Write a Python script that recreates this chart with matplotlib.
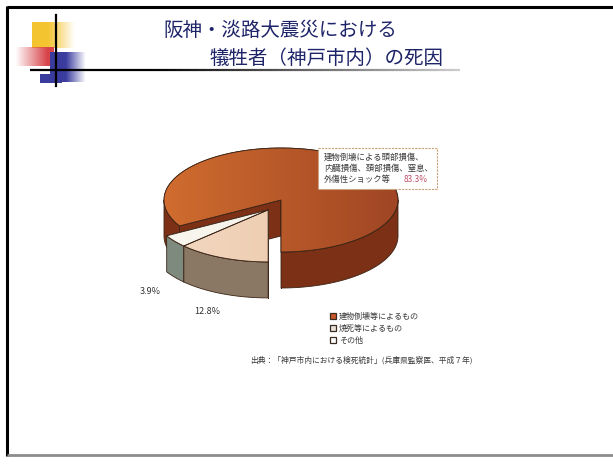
import matplotlib.pyplot as plt
import numpy as np
from matplotlib.patches import Polygon, Rectangle
from matplotlib.collections import LineCollection
from matplotlib.colors import to_rgb

plt.rcParams['font.family'] = ['Noto Sans CJK JP', 'DejaVu Sans']

# Slide content
title_lines = ["阪神・淡路大震災における", "犠牲者（神戸市内）の死因"]
categories = ["建物倒壊等によるもの", "焼死等によるもの", "その他"]
shares = [83.3, 12.8, 3.9]
share_labels = ["83.3%", "12.8%", "3.9%"]
explode = [0.0, 0.22, 0.22]
callout_lines = ["建物倒壊による頭部損傷、", "内臓損傷、頚部損傷、窒息、", "外傷性ショック等"]
source_note = "出典：「神戸市内における検死統計」(兵庫県監察医、平成７年)"

# colours per category: top face (light, dark for gradient), side wall
top_light = ["#d06c2f", "#f3d9c2", "#faf8f0"]
top_dark = ["#a04624", "#e9c4a4", "#eeeae0"]
wall_col = ["#7c3116", "#8a7865", "#7e8a7e"]
legend_fill = ["#c9562a", "#e8e2da", "#ffffff"]

# slices are laid out counter-clockwise from the front: big one first, then その他, then 焼死
draw_order = [0, 2, 1]

fig = plt.figure(figsize=(6.13, 4.65), dpi=100)
ax = fig.add_axes([0, 0, 1, 1])
ax.set_xlim(0, 613)
ax.set_ylim(465, 0)
ax.axis("off")

# slide frame
ax.plot([7, 7], [6, 456], color="black", lw=2.2, solid_capstyle="butt")
ax.plot([7, 613], [7, 7], color="black", lw=2.2, solid_capstyle="butt")
ax.plot([7, 613], [455, 455], color="#8c8c8c", lw=2.0, solid_capstyle="butt")


def fade_block(x0, x1, y0, y1, color, a0, a1, z=1):
    rgba = np.zeros((1, 64, 4))
    rgba[..., :3] = to_rgb(color)
    rgba[..., 3] = np.clip(np.linspace(a0, a1, 64), 0, 1)
    ax.imshow(rgba, extent=(x0, x1, y1, y0), aspect="auto", zorder=z,
              interpolation="bilinear")


# corner ornament
fade_block(32, 75, 22, 48, "#f4c430", 1.6, 0.0)
fade_block(12, 54, 47, 66, "#d8434a", -0.1, 1.2, z=2)
fade_block(50, 86, 52, 82, "#3a3c9e", 1.8, 0.0, z=3)
fade_block(40, 62, 74, 83, "#3a3c9e", 1.0, 1.0, z=3)
ax.plot([56, 56], [15, 86], color="black", lw=1.6, zorder=5)
xs = np.linspace(30, 460, 60)
segs = [[(xs[i], 70), (xs[i + 1], 70)] for i in range(len(xs) - 1)]
greys = [str(min(0.82, max(0.0, (x - 150) / 380))) for x in xs[:-1]]
ax.add_collection(LineCollection(segs, colors=greys, linewidths=1.6, zorder=5))

ax.text(280, 30, title_lines[0], fontsize=14, color="#1e2468",
        ha="center", va="center", zorder=6)
ax.text(326, 58, title_lines[1], fontsize=14, color="#1e2468",
        ha="center", va="center", zorder=6)

# 3D pie, projected as an ellipse with a visible side wall
cx, cy = 281, 200
rx, ry = 117, 52
depth = 36
start = -90.0

spans = np.array(shares) / sum(shares) * 360.0
angles = {}
a = start
for i in draw_order:
    angles[i] = (a, a + spans[i])
    a += spans[i]


def rim(t0, t1, ox, oy, drop=0.0, n=90):
    t = np.radians(np.linspace(t0, t1, n))
    return np.column_stack([cx + ox + rx * np.cos(t),
                            cy + oy - ry * np.sin(t) + drop])


for i in draw_order:
    t0, t1 = angles[i]
    mid = np.radians(240.0)
    ox = explode[i] * rx * np.cos(mid)
    oy = -explode[i] * ry * np.sin(mid)
    c_top = np.array([cx + ox, cy + oy])
    c_bot = c_top + [0, depth]
    edge = dict(edgecolor="#3b2416", linewidth=0.6, joinstyle="round")

    # radial cut faces that face the viewer
    for t, visible in ((t0, np.cos(np.radians(t0)) > -1e-6),
                       (t1, np.cos(np.radians(t1)) < 0)):
        if not visible:
            continue
        p = rim(t, t, ox, oy, n=1)[0]
        face = [c_top, p, p + [0, depth], c_bot]
        ax.add_patch(Polygon(face, closed=True, facecolor=wall_col[i],
                             zorder=10, **edge))

    # outer wall on the front half of the rim
    for k in (-1, 0, 1):
        lo = max(t0, 180 + 360 * k)
        hi = min(t1, 360 + 360 * k)
        if hi <= lo:
            continue
        top = rim(lo, hi, ox, oy)
        bot = rim(lo, hi, ox, oy, drop=depth)[::-1]
        ax.add_patch(Polygon(np.vstack([top, bot]), closed=True,
                             facecolor=wall_col[i], zorder=10, **edge))

    # top face with a soft left-to-right shading
    pts = np.vstack([c_top, rim(t0, t1, ox, oy)])
    top_patch = Polygon(pts, closed=True, facecolor=top_light[i],
                        zorder=11, **edge)
    ax.add_patch(top_patch)
    g = np.zeros((1, 64, 3))
    c1, c2 = np.array(to_rgb(top_light[i])), np.array(to_rgb(top_dark[i]))
    g[0] = c1 + (c2 - c1) * np.linspace(0, 1, 64)[:, None]
    im = ax.imshow(g, extent=(cx - rx + ox, cx + rx + ox, cy + ry + oy, cy - ry + oy),
                   aspect="auto", zorder=11.5, interpolation="bilinear")
    im.set_clip_path(top_patch)
    ax.add_patch(Polygon(pts, closed=True, facecolor="none", zorder=12, **edge))

ax.set_xlim(0, 613)
ax.set_ylim(465, 0)

ax.text(207, 311, share_labels[1], fontsize=6.5, color="#333333",
        ha="center", va="center", zorder=13)
ax.text(150, 291, share_labels[2], fontsize=6.5, color="#333333",
        ha="center", va="center", zorder=13)

# callout for the largest slice
ax.add_patch(Rectangle((318, 148), 119, 41, facecolor="white", edgecolor="#c9a27a",
                       linewidth=0.8, linestyle=(0, (2, 1)), zorder=14))
for k, line in enumerate(callout_lines):
    ax.text(324, 157 + k * 11.2, line, fontsize=6, color="#3a3a3a",
            ha="left", va="center", zorder=15)
ax.text(404, 179.4, share_labels[0], fontsize=6, color="#c0506a",
        ha="left", va="center", zorder=15)

# legend
for k, name in enumerate(categories):
    y = 316 + k * 12
    ax.add_patch(Rectangle((330, y - 3), 6, 6, facecolor=legend_fill[k],
                           edgecolor="#3a2a20", linewidth=0.9, zorder=14))
    ax.text(339, y, name, fontsize=5.8, color="#3a3a3a",
            ha="left", va="center", zorder=14)

ax.text(250, 360, source_note, fontsize=5.6, color="#3a3a3a",
        ha="left", va="center", zorder=14)

fig.savefig("out.png", dpi=100)
